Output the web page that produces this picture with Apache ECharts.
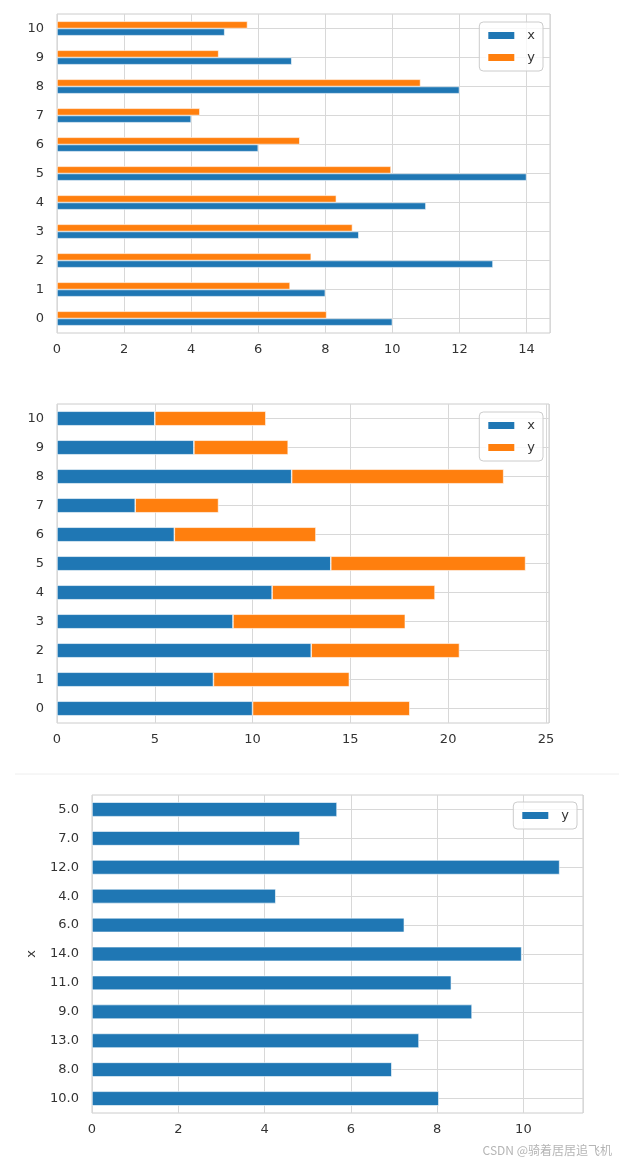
<!DOCTYPE html>
<html>
<head>
<meta charset="utf-8">
<script src="https://cdn.jsdelivr.net/npm/echarts@6/dist/echarts.min.js"></script>
<style>
html,body{margin:0;padding:0;background:#fff;}
#chart{width:619px;height:1164px;}
</style>
</head>
<body>
<div id="chart"></div>
<script>
// Data (Anscombe-like x / y)
const categories = ['0','1','2','3','4','5','6','7','8','9','10'];
const xValues = [10, 8, 13, 9, 11, 14, 6, 4, 12, 7, 5];
const yValues = [8.04, 6.95, 7.58, 8.81, 8.33, 9.96, 7.24, 4.26, 10.84, 4.82, 5.68];
// third chart: y indexed by x (in original order)
const xIndexLabels = ['10.0','8.0','13.0','9.0','11.0','14.0','6.0','4.0','12.0','7.0','5.0'];
const xTicks1 = [0, 2, 4, 6, 8, 10, 12, 14];
const xTicks2 = [0, 5, 10, 15, 20, 25];
const xTicks3 = [0, 2, 4, 6, 8, 10];

const BLUE = '#1f77b4', ORANGE = '#ff7f0e';
const GRIDC = '#d8d8d8', TXT = '#333333';
const FONT = 'DejaVu Sans';

const chart = echarts.init(document.getElementById('chart'), null, {renderer: 'canvas'});

function xAxisFor(gi, max, interval, ticks) {
  return {
    type: 'value', gridIndex: gi, min: 0, max: max, interval: interval,
    axisLine: {show: false}, axisTick: {show: false},
    splitLine: {show: true, lineStyle: {color: GRIDC, width: 1}},
    axisLabel: {
      color: TXT, fontSize: 13, fontFamily: FONT, margin: 10,
      formatter: v => (ticks.indexOf(Math.round(v * 1000) / 1000) >= 0 ? String(v) : '')
    }
  };
}
function yAxisFor(gi, data, extra) {
  return Object.assign({
    type: 'category', gridIndex: gi, data: data, boundaryGap: true,
    axisLine: {show: false}, axisTick: {show: false, alignWithLabel: true},
    splitLine: {show: true, alignWithLabel: true, lineStyle: {color: GRIDC, width: 1}},
    axisLabel: {color: TXT, fontSize: 13, fontFamily: FONT, margin: 13}
  }, extra || {});
}
const legendBase = {
  orient: 'vertical', itemWidth: 28, itemHeight: 9, itemGap: 9,
  padding: [7, 8, 7, 7], borderColor: '#cccccc', borderWidth: 1, borderRadius: 4,
  backgroundColor: 'rgba(255,255,255,0.8)',
  textStyle: {color: TXT, fontSize: 13, fontFamily: FONT, padding: [0, 0, 0, 7]},
  icon: 'rect'
};
const barBorder = {borderColor: '#ffffff', borderWidth: 0.6};

const option = {
  animation: false,
  backgroundColor: '#ffffff',
  grid: [
    {left: 57, top: 14, width: 493, height: 319, show: true, borderColor: '#cccccc', borderWidth: 1, backgroundColor: 'transparent'},
    {left: 57, top: 404, width: 492, height: 319, show: true, borderColor: '#cccccc', borderWidth: 1, backgroundColor: 'transparent'},
    {left: 92, top: 795, width: 491, height: 318, show: true, borderColor: '#cccccc', borderWidth: 1, backgroundColor: 'transparent'}
  ],
  xAxis: [
    xAxisFor(0, 14.7, 2, xTicks1),
    xAxisFor(1, 25.158, 5, xTicks2),
    xAxisFor(2, 11.382, 2, xTicks3)
  ],
  yAxis: [
    yAxisFor(0, categories),
    yAxisFor(1, categories),
    yAxisFor(2, xIndexLabels, {
      name: 'x', nameLocation: 'middle', nameGap: 54, nameRotate: 90,
      nameTextStyle: {color: TXT, fontSize: 13, fontFamily: FONT}
    })
  ],
  legend: [
    Object.assign({}, legendBase, {data: ['x', 'y'], right: 76, top: 22}),
    Object.assign({}, legendBase, {data: ['x', 'y'], right: 76, top: 412}),
    Object.assign({}, legendBase, {data: ['y3'], right: 42, top: 802,
      formatter: () => 'y'})
  ],
  series: [
    {name: 'y', type: 'bar', xAxisIndex: 0, yAxisIndex: 0, data: yValues,
     barWidth: 7.2, barGap: '0%', itemStyle: Object.assign({color: ORANGE}, barBorder)},
    {name: 'x', type: 'bar', xAxisIndex: 0, yAxisIndex: 0, data: xValues,
     barWidth: 7.2, barGap: '0%', itemStyle: Object.assign({color: BLUE}, barBorder)},
    {name: 'x', type: 'bar', xAxisIndex: 1, yAxisIndex: 1, data: xValues, stack: 's',
     barWidth: 14.5, itemStyle: Object.assign({color: BLUE}, barBorder)},
    {name: 'y', type: 'bar', xAxisIndex: 1, yAxisIndex: 1, data: yValues, stack: 's',
     barWidth: 14.5, itemStyle: Object.assign({color: ORANGE}, barBorder)},
    {name: 'y3', type: 'bar', xAxisIndex: 2, yAxisIndex: 2, data: yValues,
     barWidth: 14.5, itemStyle: Object.assign({color: BLUE}, barBorder)}
  ],
  graphic: [
    {type: 'line', shape: {x1: 15, y1: 774, x2: 619, y2: 774}, style: {stroke: '#eeeeee', lineWidth: 1}},
    {type: 'text', right: 7, top: 1144, style: {text: 'CSDN @骑着居居追飞机', fill: '#b5b5b5',
      font: '12px "Noto Sans CJK SC", "DejaVu Sans"'}}
  ]
};
chart.setOption(option);
</script>
</body>
</html>
